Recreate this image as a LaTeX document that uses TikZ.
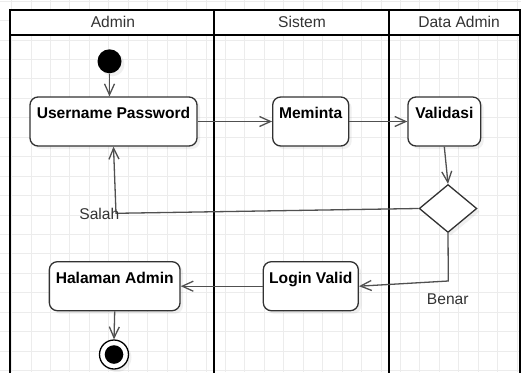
\documentclass[tikz,border=0pt]{standalone}
\usepackage{fontspec}
\setmainfont{Liberation Sans}
\usetikzlibrary{arrows.meta,shapes.geometric,shadows}
\definecolor{gridc}{RGB}{236,236,236}
\definecolor{txtc}{RGB}{51,51,51}
\definecolor{cline}{RGB}{80,80,80}
\definecolor{bline}{RGB}{50,50,50}
\tikzset{
  fnt/.style={font=\fontsize{15.6pt}{18pt}\selectfont},
  bfnt/.style={font=\bfseries\fontsize{15.6pt}{18pt}\selectfont},
  shad/.style={drop shadow={opacity=0.12,shadow xshift=3pt,shadow yshift=-3pt}},
  actbox/.style={draw=bline,line width=1.3pt,rounded corners=8pt,fill=white,shad,
    minimum height=49pt,inner sep=0pt},
  boxlbl/.style={label={[anchor=base,yshift=-22pt,bfnt,text=black]north:#1}},
  arr/.style={draw=cline,line width=1.3pt,-{Straight Barb[length=11pt,width=10pt]}},
  lane/.style={draw=black,line width=2pt},
}
\begin{document}
\begin{tikzpicture}[x=1pt,y=-1pt]
\useasboundingbox (0,0) rectangle (521,372);
\begin{scope}
\clip (0,0) rectangle (521,372);
% grid
\foreach \i in {0,...,26} \draw[gridc,line width=0.8pt] ({11.56+19.44*\i},0) -- ({11.56+19.44*\i},372);
\foreach \j in {0,...,19} \draw[gridc,line width=0.8pt] (0,{1.12+19.44*\j}) -- (521,{1.12+19.44*\j});
% lanes
\fill[white] (10,10) rectangle (520,35);
\draw[lane] (10,380) -- (10,10) -- (520,10) -- (520,380);
\draw[lane] (10,35) -- (520,35);
\draw[lane] (214,10) -- (214,380);
\draw[lane] (389,10) -- (389,380);
\end{scope}
\node[fnt,text=txtc,anchor=base] (h1) at (112.9,27.3) {Admin};
\node[fnt,text=txtc,anchor=base] (h2) at (302,27.3) {Sistem};
\node[fnt,text=txtc,anchor=base] (h3) at (459,27.3) {Data Admin};
% nodes
\node[circle,fill=black,minimum size=24pt,inner sep=0pt,shad] (start) at (109.5,61.3) {};
\node[actbox,minimum width=167pt,boxlbl={Username Password}] (up) at (113.5,121.5) {};
\node[actbox,minimum width=76pt,boxlbl={Meminta}] (mem) at (310.7,121.5) {};
\node[actbox,minimum width=72.7pt,boxlbl={Validasi}] (val) at (444.3,121.5) {};
\node[diamond,draw=bline,line width=1.3pt,fill=white,shad,inner sep=0pt,
  minimum width=57.7pt,minimum height=48pt] (dia) at (448,208.5) {};
\node[actbox,minimum width=95pt,boxlbl={Login Valid}] (lv) at (310.8,286.2) {};
\node[actbox,minimum width=130.7pt,boxlbl={Halaman Admin}] (ha) at (114.7,286.2) {};
\node[circle,draw=black,line width=1.3pt,fill=white,minimum size=29pt,inner sep=0pt,shad] (end) at (114,354.5) {};
\fill[black] (end.center) circle (9.3);
% coordinates
\coordinate (sb) at (116,213.3);
\coordinate (bb) at (448.3,281);
% connectors
\draw[arr] (start.south) -- (start.south |- up.north);
\draw[arr] (up.east) -- (mem.west);
\draw[arr] (mem.east) -- (val.west);
\draw[arr] (val.south) -- (dia.north);
\draw[arr] (dia.west) -- (sb) -- (up.south);
\draw[arr] (dia.south) -- (bb) -- (lv.east);
\draw[arr] (lv.west) -- (ha.east);
\draw[arr] (ha.south) -- (end.north);
% edge labels
\node[fnt,text=txtc,anchor=base east,inner sep=0pt] (salah) at (119.5,219) {Salah};
\node[fnt,text=txtc,anchor=base,inner sep=0pt] (benar) at (447.8,304) {Benar};
\end{tikzpicture}
\end{document}
